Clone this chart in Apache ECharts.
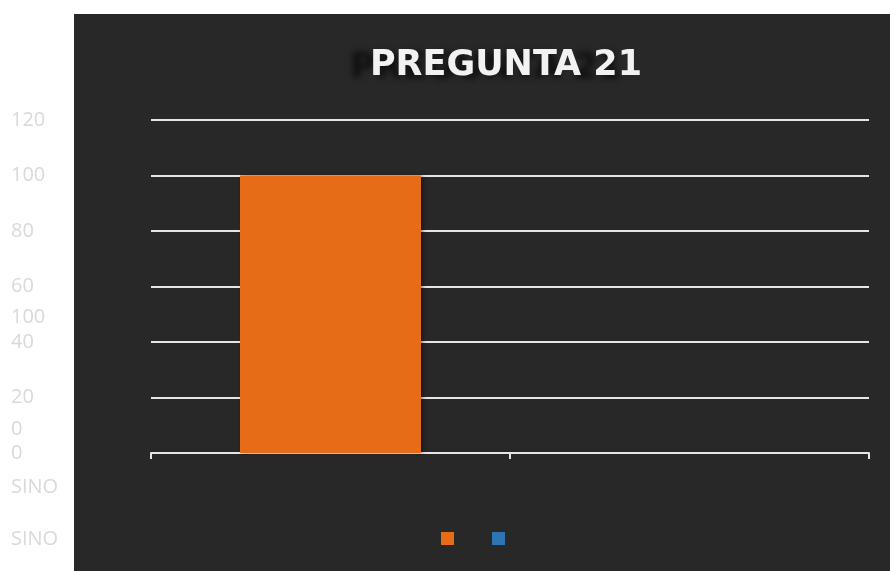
<!DOCTYPE html>
<html>
<head>
<meta charset="utf-8">
<script src="https://cdn.jsdelivr.net/npm/echarts@6/dist/echarts.min.js"></script>
<style>
  html, body { margin: 0; padding: 0; background: #ffffff; }
  #main { width: 890px; height: 571px; }
</style>
</head>
<body>
<div id="main"></div>
<script>
var categories = ['SI', 'NO'];
var siValues = [100, null];
var noValues = [null, 0];
var yTicks = [0, 20, 40, 60, 80, 100, 120];

var myChart = echarts.init(document.getElementById('main'));
var grayText = '#d9d9d9';

var option = {
    backgroundColor: '#ffffff',
    animation: false,
    title: {
        text: 'PREGUNTA 21',
        left: 501,
        top: 43,
        textAlign: 'center',
        textStyle: {
            color: '#f2f2f2',
            fontFamily: 'DejaVu Sans',
            fontWeight: 'bold',
            fontSize: 35,
            textShadowColor: 'rgba(0,0,0,0.65)',
            textShadowBlur: 6,
            textShadowOffsetX: -20,
            textShadowOffsetY: 3
        }
    },
    graphic: [
        // dark chart panel
        { type: 'rect', z: -10, shape: { x: 74, y: 14, width: 816, height: 557 }, style: { fill: '#282828' } },
        // stray labels left outside the panel
        { type: 'text', left: 11, top: 307, style: { text: String(siValues[0]), fill: grayText, font: '20px "Open Sans"' } },
        { type: 'text', left: 11, top: 419, style: { text: String(noValues[1]), fill: grayText, font: '20px "Open Sans"' } },
        { type: 'text', left: 11, top: 477, style: { text: categories.join(''), fill: grayText, font: '20px "Open Sans"' } },
        { type: 'text', left: 11, top: 529, style: { text: categories.join(''), fill: grayText, font: '20px "Open Sans"' } }
    ],
    legend: {
        data: ['SI', 'NO'],
        left: 436,
        top: 527,
        icon: 'rect',
        itemWidth: 13,
        itemHeight: 13,
        itemGap: 38,
        formatter: function () { return ''; },
        textStyle: { fontSize: 1 }
    },
    grid: {
        left: 151,
        right: 21,
        top: 120,
        bottom: 118
    },
    xAxis: [{
        type: 'category',
        data: categories,
        axisLine: { lineStyle: { color: '#e6e6e6', width: 2 } },
        axisTick: { show: true, length: 6, lineStyle: { color: '#e6e6e6', width: 2 } },
        axisLabel: { show: false }
    }],
    yAxis: [{
        type: 'value',
        min: yTicks[0],
        max: yTicks[yTicks.length - 1],
        interval: 20,
        axisLine: { show: false },
        axisTick: { show: false },
        axisLabel: {
            color: grayText,
            fontFamily: 'Open Sans',
            fontSize: 20,
            align: 'left',
            margin: 140,
            verticalAlign: 'top',
            padding: [-10, 0, 0, 0]
        },
        splitLine: { lineStyle: { color: '#e6e6e6', width: 2 } }
    }],
    series: [{
        name: 'SI',
        type: 'bar',
        barWidth: 181,
        barGap: '-100%',
        data: siValues,
        itemStyle: {
            color: '#e66c17',
            shadowColor: 'rgba(0,0,0,0.4)',
            shadowBlur: 4,
            shadowOffsetX: 2
        }
    }, {
        name: 'NO',
        type: 'bar',
        barWidth: 181,
        barGap: '-100%',
        data: noValues,
        itemStyle: { color: '#2e75b6' }
    }]
};
myChart.setOption(option);
</script>
</body>
</html>
